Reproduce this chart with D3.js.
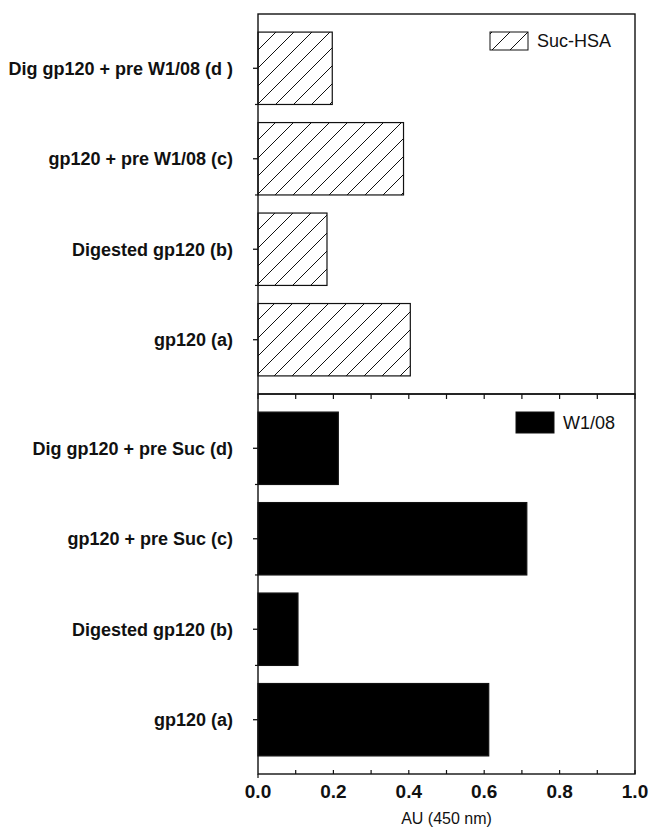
<!DOCTYPE html>
<html>
<head>
<meta charset="utf-8">
<script src="https://cdn.jsdelivr.net/npm/d3@7"></script>
<style>
  body { margin: 0; background: #fff; }
  svg { display: block; font-family: "Liberation Sans", Arial, sans-serif; }
</style>
</head>
<body>
<svg id="chart"></svg>
<script>
// categories, top to bottom in each panel
const topCategories = ["Dig gp120 + pre W1/08 (d )", "gp120 + pre W1/08 (c)", "Digested gp120 (b)", "gp120 (a)"];
const bottomCategories = ["Dig gp120 + pre Suc (d)", "gp120 + pre Suc (c)", "Digested gp120 (b)", "gp120 (a)"];

// AU (450 nm) values
const sucHsaValues = [0.197, 0.386, 0.183, 0.404];
const w108Values = [0.213, 0.713, 0.106, 0.612];

const xTickValues = [0, 0.2, 0.4, 0.6, 0.8, 1.0];
const xMinorTicks = [0, 0.1, 0.2, 0.3, 0.4, 0.5, 0.6, 0.7, 0.8, 0.9, 1.0];
const legendLabels = ["Suc-HSA", "W1/08"];
const xTitle = "AU (450 nm)";

const W = 649, H = 831;
const margin = { top: 14, right: 14, bottom: 57, left: 258 };
const width = W - margin.left - margin.right;
const panelH = (H - margin.top - margin.bottom) / 2;

const svg = d3.select('#chart').attr('width', W).attr('height', H);

// diagonal hatch pattern
const defs = svg.append('defs');
const pat = defs.append('pattern')
  .attr('id', 'hatch')
  .attr('patternUnits', 'userSpaceOnUse')
  .attr('width', 18)
  .attr('height', 18);
pat.append('rect').attr('width', 18).attr('height', 18).attr('fill', '#fff');
pat.append('path')
  .attr('d', 'M0,18 L18,0 M-4.5,4.5 L4.5,-4.5 M13.5,22.5 L22.5,13.5')
  .attr('stroke', '#111')
  .attr('stroke-width', 1);

const x = d3.scaleLinear().domain([0, 1]).range([0, width]);

const g = svg.append('g').attr('transform', `translate(${margin.left},${margin.top})`);

function drawPanel(offsetY, cats, values, fill, legendText, legendPos) {
  const p = g.append('g').attr('transform', `translate(0,${offsetY})`);
  const y = d3.scaleBand().domain(cats).range([0, panelH]).padding(0.2);

  // bars
  p.selectAll('rect.bar')
    .data(cats.map((c, i) => ({ cat: c, value: values[i] })))
    .enter()
    .append('rect')
    .attr('class', 'bar')
    .attr('x', x(0))
    .attr('y', d => y(d.cat))
    .attr('width', d => x(d.value))
    .attr('height', y.bandwidth())
    .attr('fill', fill)
    .attr('stroke', '#111')
    .attr('stroke-width', 1.2);

  // left axis: major ticks at centres, minor at band boundaries
  const step = y.step();
  p.selectAll('line.major')
    .data(cats)
    .enter()
    .append('line')
    .attr('x1', -5).attr('x2', 0)
    .attr('y1', d => y(d) + y.bandwidth() / 2)
    .attr('y2', d => y(d) + y.bandwidth() / 2)
    .attr('stroke', '#111').attr('stroke-width', 1.3);
  p.selectAll('line.minor')
    .data(d3.range(1, cats.length))
    .enter()
    .append('line')
    .attr('x1', -3).attr('x2', 0)
    .attr('y1', d => d * step)
    .attr('y2', d => d * step)
    .attr('stroke', '#111').attr('stroke-width', 1.2);

  // category labels
  p.selectAll('text.cat')
    .data(cats)
    .enter()
    .append('text')
    .attr('x', -25)
    .attr('y', d => y(d) + y.bandwidth() / 2)
    .attr('dy', '0.35em')
    .attr('text-anchor', 'end')
    .style('font-size', '18px')
    .style('font-weight', 'bold')
    .attr('fill', '#111')
    .text(d => d);

  // legend
  p.append('rect')
    .attr('x', legendPos[0]).attr('y', legendPos[1])
    .attr('width', 38).attr('height', legendPos[2])
    .attr('fill', fill)
    .attr('stroke', '#111').attr('stroke-width', 1);
  p.append('text')
    .attr('x', legendPos[0] + 47)
    .attr('y', legendPos[1] + legendPos[2] / 2)
    .attr('dy', '0.35em')
    .style('font-size', '18px')
    .attr('fill', '#111')
    .text(legendText);

  // frame
  p.append('rect')
    .attr('width', width).attr('height', panelH)
    .attr('fill', 'none')
    .attr('stroke', '#111').attr('stroke-width', 1.4);
  return p;
}

const topP = drawPanel(0, topCategories, sucHsaValues, 'url(#hatch)', legendLabels[0], [232, 18, 18]);
const botP = drawPanel(panelH, bottomCategories, w108Values, '#000', legendLabels[1], [258, 18, 21]);

// ticks along the middle line (pointing down)
botP.selectAll('line.mid')
  .data(xMinorTicks)
  .enter()
  .append('line')
  .attr('x1', d => x(d)).attr('x2', d => x(d))
  .attr('y1', 0).attr('y2', 5)
  .attr('stroke', '#111').attr('stroke-width', 1.2);

// bottom axis
const axisG = botP.append('g').attr('transform', `translate(0,${panelH})`);
axisG.selectAll('line.bt')
  .data(xMinorTicks)
  .enter()
  .append('line')
  .attr('x1', d => x(d)).attr('x2', d => x(d))
  .attr('y1', 0).attr('y2', d => d === 0 ? 4 : -4)
  .attr('stroke', '#111').attr('stroke-width', 1.2);
axisG.selectAll('text.tick')
  .data(xTickValues)
  .enter()
  .append('text')
  .attr('x', d => x(d))
  .attr('y', 24)
  .attr('text-anchor', 'middle')
  .style('font-size', '19px')
  .style('font-weight', 'bold')
  .attr('fill', '#111')
  .text(d => d3.format('.1f')(d));

svg.append('text')
  .attr('x', margin.left + width / 2)
  .attr('y', 824)
  .attr('text-anchor', 'middle')
  .style('font-size', '16px')
  .attr('fill', '#111')
  .text(xTitle);
</script>
</body>
</html>
